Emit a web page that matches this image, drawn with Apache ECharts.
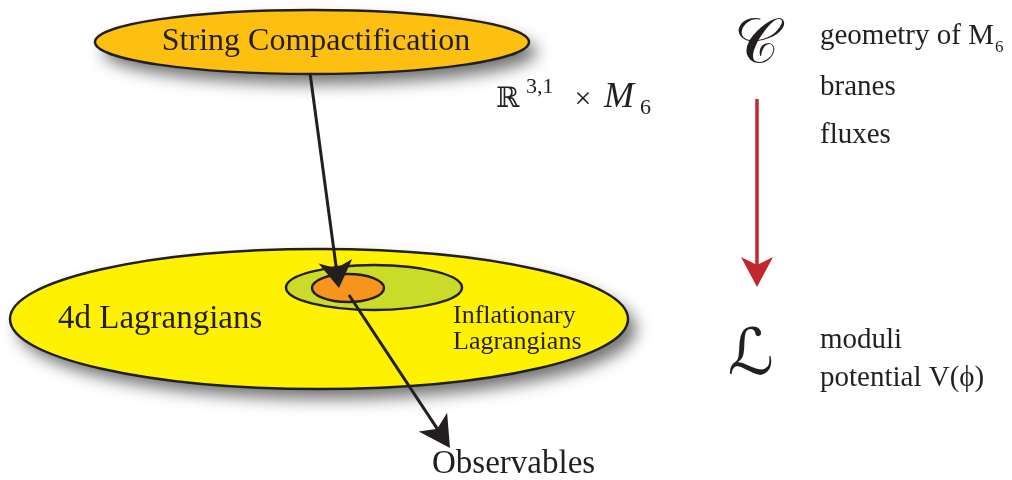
<!DOCTYPE html>
<html>
<head>
<meta charset="utf-8">
<script src="https://cdn.jsdelivr.net/npm/echarts@6/dist/echarts.min.js"></script>
<style>
  html, body { margin: 0; padding: 0; background: #fff; }
  #chart { width: 1012px; height: 480px; }
</style>
</head>
<body>
<div id="chart"></div>
<script>
// ovals, in page units (x to the right, y down)
const ovalNames = ['String Compactification', '4d Lagrangians', 'Inflationary Lagrangians', 'Observable'];
const ovalCenterX = [312, 319, 374, 348];
const ovalCenterY = [42, 319, 287.5, 288];
const ovalRadiusX = [217, 309, 88, 36];
const ovalRadiusY = [32, 70, 22.5, 14];

// arrows: from -> to
const arrowFromX = [310, 349, 757];
const arrowFromY = [73, 295, 99];
const arrowToX = [339, 450, 757];
const arrowToY = [288, 448, 287];

// plain labels and where they sit (left / centre anchor)
const labelTexts = ['String Compactification', '4d Lagrangians', 'Inflationary', 'Lagrangians',
  'Observables', 'branes', 'fluxes', 'moduli', 'potential V(\u03d5)'];
const labelX = [316, 58, 453, 453, 432, 820, 820, 820, 820];
const labelY = [42, 319, 316, 342, 464, 87, 135, 340, 378];

// pieces of R^{3,1} x M_6
const formulaTexts = ['\u211d', '3,1', '\u00d7', 'M', '6'];
const formulaX = [496, 526, 583, 604, 640];
const formulaY = [100, 87.5, 100, 98, 108.5];

const ovalFill = ['#fdc010', '#fff200', '#cbdb2a', '#f7941d'];
const ovalShadow = [true, true, false, false];
const labelAlign = ['center', 'left', 'left', 'left', 'left', 'left', 'left', 'left', 'left'];
const labelSize = [32, 33, 26, 26, 33, 29, 29, 29, 29];
const formulaSize = [28, 22, 30, 36, 22];
const arrowColor = ['#231f20', '#231f20', '#c1272d'];
const arrowWidth = [3, 3, 3.5];

const serif = '"Liberation Serif", "DejaVu Serif", serif';
const ink = '#231f20';

const ovalData = ovalNames.map((n, i) => ({
  name: n, value: [ovalCenterX[i], ovalCenterY[i], ovalRadiusX[i], ovalRadiusY[i]]
}));
const arrowData = arrowFromX.map((x, i) => [x, arrowFromY[i], arrowToX[i], arrowToY[i]]);
const labelData = labelTexts.map((t, i) => ({ name: t, value: [labelX[i], labelY[i]] }));
const formulaData = formulaTexts.map((t, i) => ({ name: t, value: [formulaX[i], formulaY[i]] }));

const chart = echarts.init(document.getElementById('chart'));

function textItem(texts, sizes, aligns, fonts) {
  return function (params, api) {
    const i = params.dataIndex;
    const p = api.coord([api.value(0), api.value(1)]);
    return {
      type: 'text', x: p[0], y: p[1],
      style: {
        text: texts[i], fill: ink, fontFamily: fonts ? fonts[i] : serif, fontSize: sizes[i],
        fontStyle: texts[i] === 'M' ? 'italic' : 'normal',
        align: aligns ? aligns[i] : 'left', verticalAlign: 'middle'
      }
    };
  };
}

chart.setOption({
  animation: false,
  grid: { left: 0, right: 0, top: 0, bottom: 0 },
  xAxis: { type: 'value', min: 0, max: 1012, show: false },
  yAxis: { type: 'value', min: 0, max: 480, inverse: true, show: false },
  series: [
    {
      type: 'custom',
      data: ovalData,
      renderItem: function (params, api) {
        const c = api.coord([api.value(0), api.value(1)]);
        const s = api.size([api.value(2), api.value(3)]);
        const i = params.dataIndex;
        const shape = { cx: c[0], cy: c[1], rx: s[0], ry: s[1] };
        const children = [];
        if (ovalShadow[i]) {
          // shadow drawn by a plain fill underneath, so the outline casts none inside
          children.push({
            type: 'ellipse', shape: shape,
            style: { fill: ovalFill[i], shadowBlur: 16, shadowOffsetX: 8, shadowOffsetY: 10, shadowColor: 'rgba(0,0,0,0.55)' }
          });
        }
        children.push({ type: 'ellipse', shape: shape, style: { fill: ovalFill[i], stroke: ink, lineWidth: 2.5 } });
        return { type: 'group', children: children };
      }
    },
    {
      type: 'custom',
      data: arrowData,
      z: 3,
      renderItem: function (params, api) {
        const i = params.dataIndex;
        const p0 = api.coord([api.value(0), api.value(1)]);
        const p1 = api.coord([api.value(2), api.value(3)]);
        const dx = p1[0] - p0[0], dy = p1[1] - p0[1];
        const len = Math.sqrt(dx * dx + dy * dy);
        const ux = dx / len, uy = dy / len;
        const nx = -uy, ny = ux;
        const headLen = [27, 31, 30][i];
        const half = [17, 17, 16][i];
        const notch = [20, 23, 22][i];
        const bx = p1[0] - ux * headLen, by = p1[1] - uy * headLen;
        const mx = p1[0] - ux * notch, my = p1[1] - uy * notch;
        return {
          type: 'group',
          children: [
            {
              type: 'line',
              shape: { x1: p0[0], y1: p0[1], x2: mx, y2: my },
              style: { stroke: arrowColor[i], lineWidth: arrowWidth[i] }
            },
            {
              type: 'polygon',
              shape: { points: [p1, [bx + nx * half, by + ny * half], [mx, my], [bx - nx * half, by - ny * half]] },
              style: { fill: arrowColor[i] }
            }
          ]
        };
      }
    },
    {
      type: 'custom',
      data: labelData,
      z: 4,
      renderItem: textItem(labelTexts, labelSize, labelAlign)
    },
    {
      type: 'custom',
      data: formulaData,
      z: 4,
      renderItem: textItem(formulaTexts, formulaSize, ['left', 'left', 'center', 'left', 'left'],
        ['"DejaVu Serif", serif', serif, serif, serif, serif])
    }
  ],
  graphic: [
    {
      type: 'text', left: 820, top: 22,
      style: {
        text: '{t|geometry of M}{s|6}',
        fill: ink,
        rich: {
          t: { fontFamily: serif, fontSize: 29, lineHeight: 40 },
          s: { fontFamily: serif, fontSize: 17, lineHeight: 17, verticalAlign: 'bottom', padding: [0, 0, 0, 1] }
        }
      }
    },
    {
      type: 'text', x: 756, y: 46,
      style: { text: '\ud835\udc9e', fill: ink, fontFamily: '"DejaVu Serif", "DejaVu Sans", serif', fontSize: 62, align: 'center', verticalAlign: 'middle' }
    },
    {
      type: 'text', x: 751, y: 357,
      style: { text: '\u2112', fill: ink, fontFamily: '"DejaVu Serif", "DejaVu Sans", serif', fontSize: 64, align: 'center', verticalAlign: 'middle' }
    }
  ]
});
</script>
</body>
</html>
